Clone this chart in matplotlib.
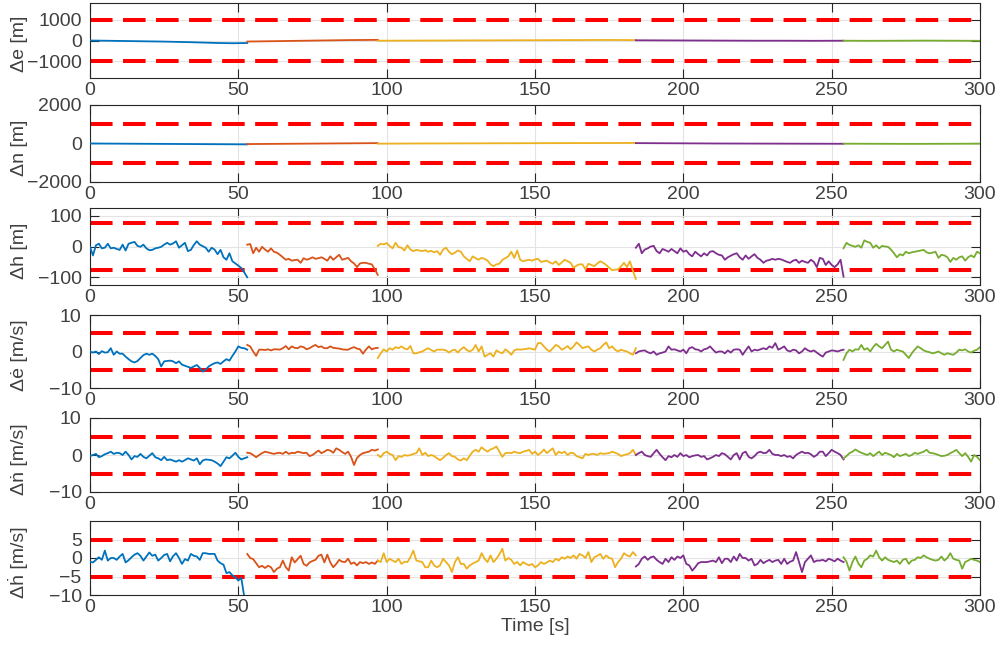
import numpy as np
import matplotlib
matplotlib.use('Agg')
import matplotlib.pyplot as plt

plt.rcParams['font.family'] = ['Liberation Sans', 'DejaVu Sans']

# time span of each run [s]
seg_start = [0, 53, 97, 184, 254]
seg_end = [53, 97, 184, 254, 300]
colors = ['#0072BD', '#D95319', '#EDB120', '#7E2F8E', '#77AC30']

# delta east [m]
de_s1 = [0, -10, -20, -30, -40, -50, -65, -80, -100, -120, -130, -120]
de_s2 = [-50, -40, -30, -20, -10, 0, 10, 20, 25, 30]
de_s3 = [-10, -5, 0, 5, 10, 15, 20, 25, 20]
de_s4 = [10, 5, 0, -5, -10, -10, -15, -10]
de_s5 = [-10, -15, -10, -5, -10, -15]

# delta north [m]
dn_s1 = [0, -5, -10, -15, -20, -25, -30, -35, -40, -45]
dn_s2 = [-30, -20, -10, 0, 10, 20]
dn_s3 = [-10, 0, 5, 10, 15, 20, 25, 30]
dn_s4 = [20, 10, 0, -5, -10, -15]
dn_s5 = [-10, -15, -20, -15, -10]

# delta height [m]
dh_s1 = [-1, -29, 4, 9, -6, -4, 9, -6, -4, -8, -11, 6, -13, 9, 12, 15, 2, -1, 6, -6,
         -12, -11, -6, -4, -1, 6, 12, 6, 10, 17, -4, 4, 12, -15, -11, 5, 17, 6, 1, -4,
         -17, -4, -10, -25, -11, -35, -43, -22, -48, -55, -62, -70, -84, -100]
dh_s2 = [6, 8, -22, -4, -17, -1, -10, -17, -6, -17, -20, -27, -35, -43, -40, -46, -44,
         -43, -53, -38, -43, -40, -35, -40, -38, -35, -40, -46, -32, -43, -35, -27, -43,
         -40, -37, -48, -55, -67, -55, -53, -53, -56, -58, -74, -92]
dh_s3 = [2, 9, 7, 11, 2, -6, 12, -2, -4, -13, 4, -10, -15, -11, -13, -15, -12, -17, -14,
         -19, -15, -27, -10, -4, -17, -25, -20, -13, -17, -32, -40, -48, -32, -38, -43,
         -37, -40, -46, -58, -64, -58, -56, -43, -38, -32, -17, -37, -13, -43, -48, -45,
         -43, -46, -42, -40, -50, -48, -46, -52, -56, -48, -60, -52, -43, -48, -53, -69,
         -62, -58, -58, -74, -56, -60, -64, -55, -48, -53, -60, -69, -77, -75, -74, -65,
         -53, -67, -48, -79, -105]
dh_s4 = [-4, 9, -22, -10, -6, 0, 2, -15, -22, -8, -12, -17, -8, -15, -22, -6, -17, -13,
         -25, -32, -17, -25, -32, -22, -29, -17, -15, -22, -27, -29, -43, -35, -30, -25,
         -22, -35, -43, -29, -40, -32, -25, -37, -43, -53, -46, -44, -40, -43, -40, -42,
         -46, -50, -53, -46, -43, -53, -46, -50, -53, -43, -50, -67, -37, -40, -60, -48,
         -60, -67, -58, -43, -98]
dh_s5 = [-6, 12, 5, 2, -1, 4, -4, 20, 15, 12, -4, 4, -6, 2, 0, -1, -10, -22, -35, -25,
         -29, -17, -22, -19, -17, -15, -13, -11, -19, -22, -20, -17, -37, -27, -29, -35,
         -50, -37, -43, -35, -32, -46, -35, -29, -35, -17, -22]

# delta east rate [m/s]
dve_s1 = [0, -0.3, 0, -0.7, 0.1, -0.3, -0.2, 0.9, -0.9, 0, -0.6, -0.6, -1.4, -2.1, -2.7,
          -3, -2.6, -1.8, -1.0, -0.6, -0.9, -0.6, -1.2, -2.1, -4.1, -2.7, -2.6, -2.5,
          -2.7, -3.2, -2.7, -3.6, -3.9, -4.2, -4.5, -4.1, -3.7, -4.5, -5.5, -5.0, -4.1,
          -3.6, -3.2, -3.0, -3.4, -2.7, -2.1, -2.5, -1.2, 0.0, 1.4, 1.0, 0.9, 0.5]
dve_s2 = [1.8, 1.4, 0, -1.2, 0.5, 0.5, 0.4, 0.6, 0.3, 0.6, 0.6, 0.5, 0.9, 1.5, 0.6, 1.4,
          1.0, 0.9, 1.4, 1.2, 0.6, 0.9, 1.4, 1.8, 1.2, 1.4, 0.9, 0.9, 1.4, 1.0, 0.9, 0.8,
          0.6, 0.5, 0.5, 0.9, 1.2, 0.8, 0.6, -0.6, 0.5, 1.4, 0.6, 0.9, 1.0]
dve_s3 = [-1.8, -0.5, 0.6, 0, 0.9, 0.5, 1.2, 0.9, 1.4, 0.8, 0.6, 1.5, -0.5, -0.5, -0.2,
          0, 0.5, 0.9, 0.4, 0, 0.5, 0.5, 0.5, 0.3, -0.3, 0.3, 0.5, -0.3, 0.6, 1.2, 0.4,
          0, 0.5, 1.8, 0, 1.4, -1.4, -0.9, -0.5, -1.4, 0.3, -0.2, -0.5, 0.6, 0, -0.9,
          0.3, 0.6, 0.5, 0.6, 0.7, 0.9, 0.7, 0.5, 2.3, 2.3, 1.4, 0.5, 0, 0.9, 1.8, 1.4,
          0.5, 0.9, 1.5, 0.6, 1.4, 2.5, 1.8, 0.9, 1.2, 1.4, 0.5, 0, 0.5, 0.9, 1.8, 2.5,
          0.9, 1.4, 0.5, 0, 0.5, 0.2, 0, -0.5, -0.9, 0.9]
dve_s4 = [-0.5, 0, 0.2, 0.3, -0.2, -0.5, 0, -0.9, -0.5, -0.3, 0, 1.4, 0.5, 0.6, 0.3, 0,
          0.5, -0.5, 0.9, 1.2, 0.6, 0.5, 0, 0.6, 0.8, 1.4, 0.5, -0.3, 0, 0, -0.5, 0.3,
          -0.3, 0.5, 0.6, 0.5, -0.9, 0.3, 1.4, 0, 0.5, 0.3, 0.6, 0.9, 0.6, 1.4, 1.0, 2.3,
          0.5, 0.9, 1.4, 0.3, 0, 0.5, 0.3, -0.5, 0, 0.9, 0.3, 0, 0.3, -0.3, -0.9, -1.4,
          -0.3, 0, 0.3, 0.2, 0, 0.3, 0.5]
dve_s5 = [-2.3, -0.5, 0.5, 0, 0.6, 0.5, 1.8, 0.5, 0.9, 0, 1.2, 2.1, 1.4, 0.9, 1.8, 2.7,
          0.5, 0, 0.5, 0.2, 0, -0.9, -1.8, -0.5, 0.5, 1.4, 0.9, 0.3, 0, -0.2, -0.5, -0.3,
          0, -0.5, -0.9, -0.5, -0.7, -0.9, -0.3, 0.5, 0.3, 0.6, 0, -0.3, 0.2, 0.5, 1.2]

# delta north rate [m/s]
dvn_s1 = [-0.3, 0, 0.3, -0.6, -0.3, 0.2, 0.5, 0.9, 0.3, 0.6, 0.5, 0, 0.9, 0, -1.2, -0.3,
          -0.5, 0.3, -0.5, -0.9, -0.2, 0.5, -0.6, -0.9, -1.4, -0.5, -1.4, -1.2, -1.5,
          -1.8, -1.4, -1.8, -1.4, -0.9, -1.2, -1.5, -0.9, -2.5, -1.5, -1.2, -1.3, -1.4,
          -1.8, -2.3, -3, -1.8, -0.6, -0.9, -0.2, 0.6, -0.5, -1.2, -0.9, -0.6]
dvn_s2 = [0.6, 0.5, 0, -0.6, 0, 0.5, 0.9, 0.7, 0.5, 0.3, 0.5, 0.6, 0.3, 0.9, 0.3, 0.6,
          0.5, 0.9, 0.7, 0.5, 0.6, -0.3, 0, 0.6, 1.2, 0.5, 0.9, 1.4, 1.2, 0.6, 1.8, 1.4,
          0.8, 0.3, 0.9, -0.5, -2.7, -0.8, 0, 0.5, 0.7, 0.9, 1.4, 1.2, 1.5]
dvn_s3 = [0, -0.6, 0.5, 0.9, 0.3, 0, -1.4, -0.3, -0.5, 0, -0.2, 0, 0.3, 0.5, 1.8, 0, 0.6,
          -0.3, 0, -0.3, -0.9, -1.4, -0.8, 0, 0.5, -0.3, -0.5, -1.2, -1.5, -0.9, -1.4,
          -0.2, 0.9, 1.4, 0.9, 2.1, 1.4, 0.9, 1.5, 1.8, 2.3, 0.9, -0.5, 0.5, 0.6, 0.5,
          0.9, 0.6, 0.5, 0.9, 1.1, 1.4, 0.3, 0.9, 0, 0.6, 1.5, 0.5, 1.2, 1.8, 0, 0.9, 0.5,
          0.9, 0, 0.6, 0.5, -0.3, -0.6, -0.9, 0.3, 0, 0.3, 0.3, 0, 0.5, 0.3, 0.4, 0.5,
          0.9, 0.6, 0.3, -0.3, 0, 0.2, 0.5, 1.4, 0]
dvn_s4 = [0, 0.5, 0.9, 0, -0.3, -0.5, 0.5, 1.4, 0.3, -0.6, -1.4, -0.3, -0.6, 0, -0.5,
          0.5, -0.3, 0, -0.6, -0.3, -0.1, 0, -0.5, -0.3, -1.2, -0.9, -0.5, 0, -0.3, 0.5,
          0.2, -0.5, -1.2, 0, 0.5, -1.2, 0.5, 0.9, -0.5, -0.9, -0.3, 0.6, 0.9, 0.5, 0.6,
          1.4, 0.3, 0, 0, -0.3, 0, -0.5, -0.3, -0.9, 0, 0.5, 0.9, 0.5, 0.6, 0.2, -0.5, 0,
          0.9, 0.9, -0.3, 0.5, 1.4, 0.9, 0.5, 0, -1.2]
dvn_s5 = [-0.9, -0.3, 0.5, 0.9, 1.5, 1.0, 0.6, 0.3, 0, 0.5, -0.3, 0.3, 0.9, 0, 0.6, 0.3,
          0, -0.6, 0.3, -0.3, 0, 0.3, -0.3, 0, 0.6, 0.3, 0.6, 0.9, 1.4, 0.6, 0.5, 0.3, 0,
          -0.3, -0.2, 0, 0.5, 0.9, 1.4, 0.5, -0.3, 0.5, -0.5, -1.8, 0, -0.5, -1.4]

# delta height rate [m/s]
dvh_s1 = [-1, -1.2, -0.5, 0.2, -0.5, 2, -0.7, 0, 0, -0.5, 0.4, 1.1, -1.2, -0.6, 0.2, 0.9,
          1.3, 0.6, -0.7, 0.4, 1.5, 0.6, 0.9, -0.7, 0, 0.8, 1.1, -0.9, 0.5, 1.3, 0, -1.6,
          -0.3, -0.7, 1.1, 0.6, 0.4, -0.5, 1.3, 1.3, 1.1, 1.1, 1.1, -0.7, -1.4, -1.8,
          -4.1, -3.8, -4.7, -5.2, -6.1, -5.4, -10.5, -16]
dvh_s2 = [1.1, 0, -0.3, -1.4, -2.5, -2.1, -2.7, -2.1, -2.5, -3.8, -2.9, -2.5, -0.7, -2.5,
          -3.4, 0.2, -1.2, -0.3, 0.6, -1.6, -2.1, -1.2, -0.8, -0.5, 0.6, 0.9, -1.2, 0.9,
          -1.2, -2.5, -1.6, -0.5, -1.0, -1.1, -0.2, -1.6, -1.2, -2.0, -1.1, -1.4, -1.1,
          -1.6, -1.2, -1.6, -0.7]
dvh_s3 = [-0.7, -1.1, 1.3, -1.1, -0.2, -0.7, -1.1, -0.2, -1.6, -1.0, -1.1, 0.2, 2.0, -0.7,
          -0.9, -1.1, -2.5, -2.5, -0.7, -2.0, -2.5, -2.0, -0.2, -1.1, -2.0, -3.8, -1.1,
          0.2, -1.6, -1.6, -2.9, -2.0, -1.5, -1.1, -0.7, 1.3, -0.2, -1.1, 0.7, -1.1, -0.2,
          1.0, 2.5, -0.7, 0, -0.5, -1.6, -1.1, -2.0, -1.1, -1.6, -2.0, -1.6, -2.5, -2.0,
          -1.1, -1.6, -1.2, -0.7, -1.1, -0.2, -0.7, 0.2, -0.2, 0.4, 0, 0.7, -0.2, 1.1, 0.7,
          0, 1.6, -1.1, 0.2, 0.6, 1.1, -0.2, 0.7, 0, -0.2, -2.5, -1.1, -0.2, 1.3, 0.7, 0.4,
          1.6, 0.7]
dvh_s4 = [-2.3, -1.6, -0.2, 0.4, -0.5, 0.2, 0.4, -0.5, -1.1, -1.6, -0.2, -1.1, 0.2, -0.5,
          0.4, 0, 0.7, -1.6, -2.0, -3.4, -2.5, -1.4, -1.1, -1.1, -1.1, -0.9, -0.7, -1.1,
          0.2, -1.4, -0.2, -0.2, -1.1, 0.4, -0.7, 1.1, 0, 0, -0.7, -0.2, -2.0, -1.6, -0.5,
          -1.4, -0.9, -0.5, -1.1, -0.7, -0.5, -1.6, -0.2, -1.6, -1.0, -0.7, 1.6, -1.1,
          -3.8, -1.1, -0.2, 0.7, -1.1, -0.7, -0.7, -0.5, -0.9, -0.2, -0.5, -0.9, -0.2,
          -0.7, -1.1]
dvh_s5 = [0.2, -1.0, -3.4, -1.1, 0.4, -1.5, -2.5, -0.7, -0.2, 0.7, 0.4, 2.0, 0.2, -0.7,
          0.2, -0.5, -0.8, -1.1, -0.7, -1.6, -0.5, -0.2, -1.6, -0.7, -0.5, 0.2, 0, 0.7,
          0.2, -0.2, -0.5, -0.7, -0.5, 0.4, -0.7, 0, 1.3, -0.2, -0.5, -0.7, -2.9, -1.1,
          -0.7, -0.2, -0.5, -0.7, -1.1]

series = [
    [de_s1, de_s2, de_s3, de_s4, de_s5],
    [dn_s1, dn_s2, dn_s3, dn_s4, dn_s5],
    [dh_s1, dh_s2, dh_s3, dh_s4, dh_s5],
    [dve_s1, dve_s2, dve_s3, dve_s4, dve_s5],
    [dvn_s1, dvn_s2, dvn_s3, dvn_s4, dvn_s5],
    [dvh_s1, dvh_s2, dvh_s3, dvh_s4, dvh_s5],
]
ylabels = ['Δe [m]', 'Δn [m]', 'Δh [m]', 'Δė [m/s]', 'Δṅ [m/s]', 'Δḣ [m/s]']
thresholds = [1000, 1000, 75, 5, 5, 5]
ylims = [1800, 2000, 125, 10, 10, 10]
yticks = [[-1000, 0, 1000], [-2000, 0, 2000], [-100, 0, 100],
          [-10, 0, 10], [-10, 0, 10], [-10, -5, 0, 5]]
xticks = [0, 50, 100, 150, 200, 250, 300]

# axes boxes in pixels (top, bottom) on a 646 px high figure
boxes = [(2.7, 78.3), (105, 182), (208, 285), (315, 388), (418, 492), (521, 595)]
H = 646.0

fig = plt.figure(figsize=(10, 6.46), dpi=100)
text_col = '#404040'
axis_col = '#262626'

for k in range(6):
    top, bot = boxes[k]
    ax = fig.add_axes([0.09, 1 - bot / H, 0.89, (bot - top) / H])
    thr = thresholds[k]
    ax.plot([0, 300], [thr, thr], color='r', lw=2.9, dashes=(5.6, 2.6), zorder=2)
    ax.plot([0, 300], [-thr, -thr], color='r', lw=2.9, dashes=(5.6, 2.6), zorder=2)
    for s in range(5):
        vals = series[k][s]
        t = np.linspace(seg_start[s], seg_end[s], len(vals))
        ax.plot(t, vals, color=colors[s], lw=1.3, zorder=3)
    ax.set_xlim(0, 300)
    ax.set_ylim(-ylims[k], ylims[k])
    ax.set_xticks(xticks)
    ax.set_yticks(yticks[k])
    ax.grid(True, color='#e3e3e3', lw=0.8, zorder=0)
    ax.set_axisbelow(True)
    ax.tick_params(direction='in', length=6.5, width=0.8, color=axis_col,
                   labelcolor=text_col, labelsize=14, top=True, right=True)
    ax.tick_params(axis='x', pad=3)
    ax.tick_params(axis='y', pad=6)
    for sp in ax.spines.values():
        sp.set_color(axis_col)
        sp.set_linewidth(0.8)
    ax.set_ylabel(ylabels[k], fontsize=14, color=text_col)
    ax.yaxis.set_label_coords(-0.07, 0.45)
    if k == 5:
        ax.set_xlabel('Time [s]', fontsize=14, color=text_col, labelpad=1)

fig.savefig('out.png', dpi=100)
